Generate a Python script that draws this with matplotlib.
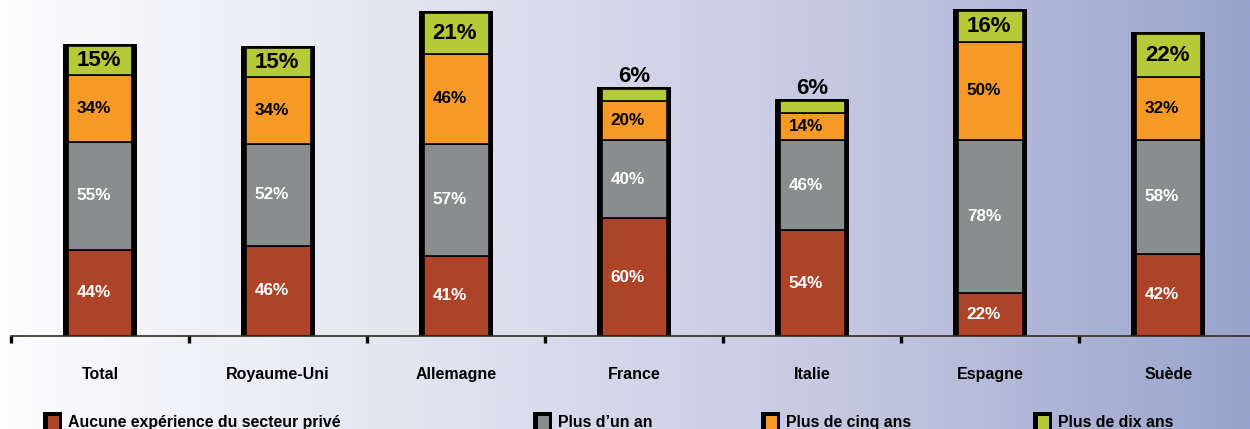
import numpy as np
import matplotlib
matplotlib.use("Agg")
import matplotlib.pyplot as plt
from matplotlib.colors import LinearSegmentedColormap
from matplotlib.patches import Rectangle

plt.rcParams['font.family'] = ['Liberation Sans', 'DejaVu Sans']

categories = ["Total", "Royaume-Uni", "Allemagne", "France", "Italie", "Espagne", "Suède"]
aucune = [44, 46, 41, 60, 54, 22, 42]
plus_un = [55, 52, 57, 40, 46, 78, 58]
plus_cinq = [34, 34, 46, 20, 14, 50, 32]
plus_dix = [15, 15, 21, 6, 6, 16, 22]
series_names = ["Aucune expérience du secteur privé", "Plus d\u2019un an",
                "Plus de cinq ans", "Plus de dix ans"]
series = [aucune, plus_un, plus_cinq, plus_dix]
colors = ["#AE4427", "#898D8E", "#F69A25", "#B6C936"]
text_colors = ["white", "white", "black", "black"]

W, H = 1250, 429
fig = plt.figure(figsize=(W / 100, H / 100), dpi=100)

# background gradient, white on the left to lavender on the right
bg = fig.add_axes([0, 0, 1, 1])
cmap = LinearSegmentedColormap.from_list("bg", ["#FDFDFE", "#E2E4F0", "#C5C9E1", "#9AA4CC"])
bg.imshow(np.linspace(0, 1, 512).reshape(1, -1), aspect="auto", cmap=cmap,
          extent=[0, 1, 0, 1])
bg.axis("off")

ax = fig.add_axes([11 / W, 93 / H, 1 - 11 / W, 336 / H])
ax.patch.set_alpha(0)
ax.set_xlim(-0.5, 6.46)
ax.set_ylim(0, 171.4)

x = np.arange(len(categories))
totals = np.sum(series, axis=0)

# black frame behind each bar (thick sides)
ax.bar(x, totals + 0.9, width=0.418, color="black", zorder=2)

bottom = np.zeros(len(categories))
for k, (vals, c) in enumerate(zip(series, colors)):
    vals = np.array(vals)
    ax.bar(x, vals, bottom=bottom, width=0.365, color=c, edgecolor="black",
           linewidth=1.2, zorder=3)
    for i, v in enumerate(vals):
        big = (k == 3)
        fs = 16 if big else 12.3
        if v >= 10:
            ax.text(x[i] - 0.131, bottom[i] + v / 2, f"{v}%", ha="left", va="center",
                    fontsize=fs, fontweight="bold", color=text_colors[k], zorder=4)
        else:
            ax.text(x[i], bottom[i] + v + 0.8, f"{v}%", ha="center", va="bottom",
                    fontsize=fs, fontweight="bold", color="black", zorder=4)
    bottom += vals

for s in ["top", "right", "left"]:
    ax.spines[s].set_visible(False)
ax.spines["bottom"].set_color("#2E2E18")
ax.spines["bottom"].set_linewidth(1.2)
ax.spines["bottom"].set_zorder(5)
ax.set_yticks([])

ax.set_xticks(np.arange(-0.5, len(categories) - 0.5, 1))
ax.set_xticklabels([])
ax.tick_params(axis="x", which="major", length=5, width=2.4, color="black", direction="out")
ax.set_xticks(x, minor=True)
ax.set_xticklabels(categories, minor=True, fontsize=11.5, fontweight="bold")
ax.tick_params(axis="x", which="minor", length=0, pad=22.5)

# legend along the bottom
leg_x = [43, 533, 761, 1033]
for (lx, name, c) in zip(leg_x, series_names, colors):
    fig.patches.append(Rectangle((lx / W, -6 / H), 19 / W, 23 / H, transform=fig.transFigure,
                                 facecolor="black", edgecolor="none"))
    fig.patches.append(Rectangle(((lx + 5) / W, -6 / H), 11 / W, 19 / H,
                                 transform=fig.transFigure, facecolor=c, edgecolor="none"))
    fig.text((lx + 25) / W, 2 / H, name, fontsize=11.4, fontweight="bold",
             ha="left", va="baseline")

fig.savefig("out.png", dpi=100)
